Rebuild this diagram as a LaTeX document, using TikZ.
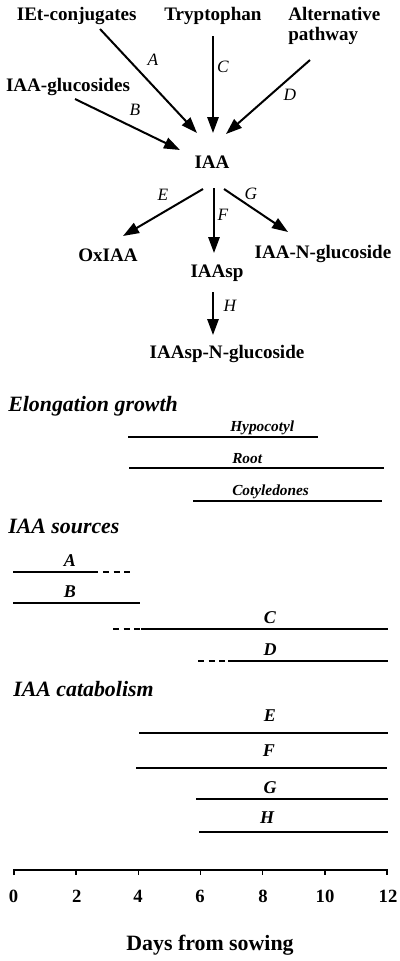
\documentclass[tikz,border=0pt]{standalone}
\usepackage{fontspec}
\setmainfont{Liberation Serif}
\usetikzlibrary{arrows.meta}
\begin{document}
\begin{tikzpicture}[x=0.75pt,y=-0.75pt,
  lbl/.style={font=\bfseries\fontsize{14.3}{16}\selectfont, inner sep=0pt, anchor=base},
  ltr/.style={font=\itshape\fontsize{13}{15}\selectfont, inner sep=0pt, anchor=base},
  tl/.style={font=\bfseries\itshape\fontsize{13.5}{15}\selectfont, inner sep=0pt, anchor=base},
  organ/.style={font=\bfseries\itshape\fontsize{11.5}{13}\selectfont, inner sep=0pt, anchor=base west},
  head/.style={font=\bfseries\itshape\fontsize{16.4}{18}\selectfont, inner sep=0pt, anchor=base west},
  tick/.style={font=\bfseries\fontsize{14}{16}\selectfont, inner sep=0pt, anchor=base},
  arr/.style={line width=1.5pt, -{Triangle[length=12pt,width=8.5pt]}},
  bar/.style={line width=1.2pt},
  dbar/.style={line width=1.2pt, dash pattern=on 4.5pt off 3.5pt},
]
\useasboundingbox (0,0) rectangle (400,961);

% ---- pathway ----
\node[lbl] (iet) at (76.7,20.5) {IEt-conjugates};
\node[lbl] (trp) at (213,20.5) {Tryptophan};
\node[lbl,anchor=base west] (alt1) at (288,20.5) {Alternative};
\node[lbl,anchor=base west] (alt2) at (288,40.5) {pathway};
\node[lbl] (glc) at (68,91) {IAA-glucosides};
\node[lbl] (iaa) at (212,168) {IAA};
\node[lbl] (ox) at (108,261) {OxIAA};
\node[lbl] (ng) at (323,258.3) {IAA-N-glucoside};
\node[lbl] (asp) at (217,277.7) {IAAsp};
\node[lbl] (aspng) at (227,358) {IAAsp-N-glucoside};

\coordinate (a0) at (100,29);  \coordinate (a1) at (197,133);
\coordinate (c0) at (213,36);  \coordinate (c1) at (213,133);
\coordinate (d0) at (310,60);  \coordinate (d1) at (226,134);
\coordinate (b0) at (75,99);   \coordinate (b1) at (180,150);
\coordinate (e0) at (203,189); \coordinate (e1) at (123,236);
\coordinate (f0) at (214,188); \coordinate (f1) at (214,253);
\coordinate (g0) at (224,189); \coordinate (g1) at (288,232);
\coordinate (h0) at (213,292); \coordinate (h1) at (213,335);

\draw[arr] (a0) -- (a1);
\draw[arr] (c0) -- (c1);
\draw[arr] (d0) -- (d1);
\draw[arr] (b0) -- (b1);
\draw[arr] (e0) -- (e1);
\draw[arr] (f0) -- (f1);
\draw[arr] (g0) -- (g1);
\draw[arr] (h0) -- (h1);

\node[ltr] (la) at (153,65) {A};
\node[ltr] (lc) at (223,72.7) {C};
\node[ltr] (ld) at (290,100.7) {D};
\node[ltr] (lb) at (135,115) {B};
\node[ltr] (le) at (163,200) {E};
\node[ltr] (lg) at (251,199.3) {G};
\node[ltr] (lf) at (223,220.7) {F};
\node[ltr] (lh) at (230,311) {H};

% ---- Elongation growth ----
\node[head] (hg) at (8,411.7) {Elongation growth};
\node[organ] (hyp) at (230,431.7) {Hypocotyl};
\draw[bar] (128,437) -- (318,437);
\node[organ] (root) at (232,463.3) {Root};
\draw[bar] (129,468) -- (384,468);
\node[organ] (cot) at (232,495) {Cotyledones};
\draw[bar] (193,501) -- (382,501);

% ---- IAA sources ----
\node[head] (hs) at (8,533.3) {IAA sources};
\node[tl] (ta) at (70,566) {A};
\draw[bar] (13,572) -- (98,572);
\draw[dbar] (103,572) -- (135,572);
\node[tl] (tb) at (70,597.3) {B};
\draw[bar] (13,603) -- (140,603);
\node[tl] (tc) at (270,623.3) {C};
\draw[dbar] (113,629) -- (140,629);
\draw[bar] (141,629) -- (388,629);
\node[tl] (td) at (270,655) {D};
\draw[dbar] (198,661) -- (227,661);
\draw[bar] (228,661) -- (388,661);

% ---- IAA catabolism ----
\node[head] (hc) at (13,696) {IAA catabolism};
\node[tl] (te) at (270,721.7) {E};
\draw[bar] (139,733) -- (388,733);
\node[tl] (tf) at (269,756.7) {F};
\draw[bar] (136,768) -- (387,768);
\node[tl] (tg) at (270,793.3) {G};
\draw[bar] (196,799) -- (388,799);
\node[tl] (th) at (267,823.3) {H};
\draw[bar] (199,832) -- (388,832);

% ---- axis ----
\draw[line width=1.1pt] (14,875) -- (14,870) -- (387,870) -- (387,875);
\foreach \d/\xx in {0/13.5,2/76.7,4/138,6/200,8/263,10/325,12/388}{
  \pgfmathsetmacro{\tx}{14+31.08*\d}
  \draw[line width=1.1pt] (\tx,870) -- (\tx,875);
  \node[tick] (t\d) at (\xx,902.3) {\d};
}
\node[font=\bfseries\fontsize{16.4}{18}\selectfont, inner sep=0pt, anchor=base] (xl) at (210,950) {Days from sowing};
\end{tikzpicture}
\end{document}
